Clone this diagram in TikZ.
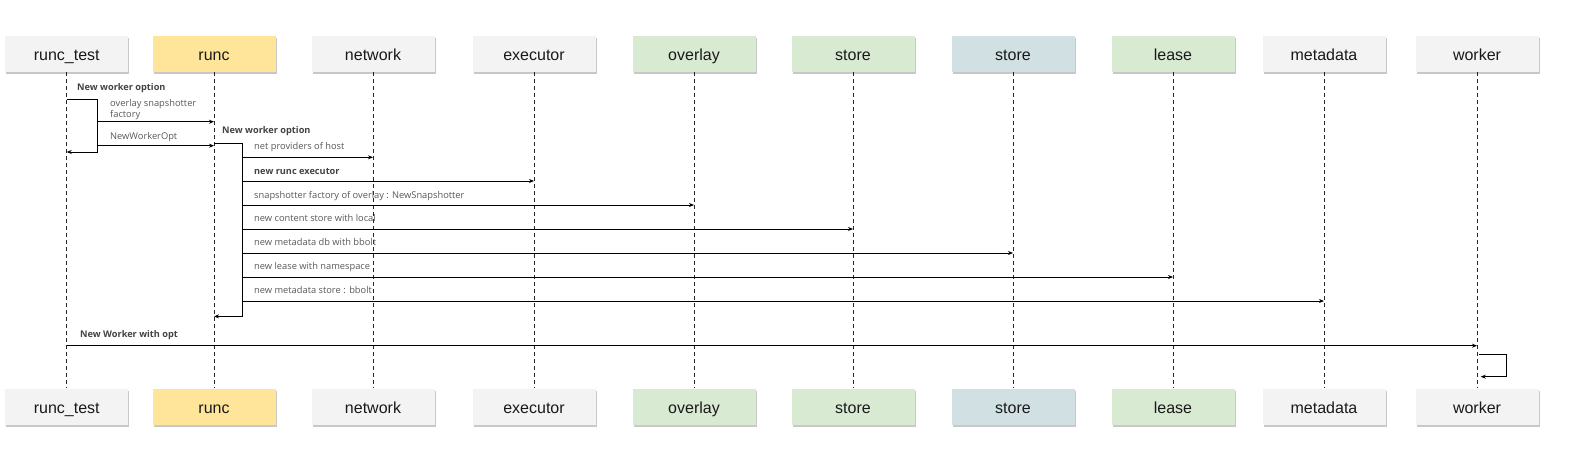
\documentclass[tikz,border=0pt]{standalone}
\usepackage{fontspec}
\setmainfont{Liberation Sans}
\newfontfamily\labfont{Open Sans}
\usetikzlibrary{arrows.meta,shadows}
\definecolor{boxgray}{HTML}{F3F3F3}
\definecolor{boxyellow}{HTML}{FFE599}
\definecolor{boxgreen}{HTML}{D9EAD3}
\definecolor{boxblue}{HTML}{D0E0E3}
\definecolor{labgray}{HTML}{595959}
\definecolor{labdark}{HTML}{434343}
\begin{document}
\begin{tikzpicture}[x=1pt,y={(0pt,-1pt)},
  actor/.style={draw=none, minimum width=123pt, minimum height=36pt, inner sep=0pt,
    text height=14.5pt, text depth=1pt,
    font=\fontsize{16}{18}\selectfont, text=black!90,
    drop shadow={shadow xshift=1pt, shadow yshift=-2pt, opacity=0.3, fill=black!70}},
  life/.style={dash pattern=on 4pt off 3pt, line width=0.8pt, black!85},
  msg/.style={line width=1pt, black, -{Stealth[length=5pt,width=4pt]}},
  lab/.style={anchor=base west, inner sep=0pt, font=\labfont\fontsize{9.3}{11}\selectfont, text=labgray},
  blab/.style={anchor=base west, inner sep=0pt, font=\labfont\bfseries\fontsize{9.2}{11}\selectfont, text=labdark}]
\useasboundingbox (0,0) rectangle (1590,460);
\fill[white] (0,0) rectangle (1590,460);
% top actors
\node[actor, fill=boxgray]   (t1)  at (66.7,54.2) {runc\_test};
\node[actor, fill=boxyellow] (t2)  at (214,54.2)  {runc};
\node[actor, fill=boxgray]   (t3)  at (373,54.2)  {network};
\node[actor, fill=boxgray]   (t4)  at (534,54.2)  {executor};
\node[actor, fill=boxgreen]  (t5)  at (694,54.2)  {overlay};
\node[actor, fill=boxgreen]  (t6)  at (853,54.2)  {store};
\node[actor, fill=boxblue]   (t7)  at (1013,54.2) {store};
\node[actor, fill=boxgreen]  (t8)  at (1173,54.2) {lease};
\node[actor, fill=boxgray]   (t9)  at (1324,54.2) {metadata};
\node[actor, fill=boxgray]   (t10) at (1477,54.2) {worker};
% bottom actors
\node[actor, fill=boxgray]   (b1)  at (66.7,406.5) {runc\_test};
\node[actor, fill=boxyellow] (b2)  at (214,406.5)  {runc};
\node[actor, fill=boxgray]   (b3)  at (373,406.5)  {network};
\node[actor, fill=boxgray]   (b4)  at (534,406.5)  {executor};
\node[actor, fill=boxgreen]  (b5)  at (694,406.5)  {overlay};
\node[actor, fill=boxgreen]  (b6)  at (853,406.5)  {store};
\node[actor, fill=boxblue]   (b7)  at (1013,406.5) {store};
\node[actor, fill=boxgreen]  (b8)  at (1173,406.5) {lease};
\node[actor, fill=boxgray]   (b9)  at (1324,406.5) {metadata};
\node[actor, fill=boxgray]   (b10) at (1477,406.5) {worker};
% lifelines
\foreach \i in {1,...,10} { \draw[life] (t\i) -- (b\i); }
% runc_test self call
\coordinate (ya) at (0,99.4);
\coordinate (yb) at (0,152);
\coordinate (k1) at (97,99.4);
\coordinate (k2) at (97,152);
\draw[msg] (t1 |- ya) -- (k1) -- (k2) -- (t1 |- yb);
\node[blab] (l0) at (77,90) {New worker option};
\coordinate (s1) at (97,121.7);
\draw[msg] (s1) -- (s1 -| t2);
\node[lab] (l1a) at (110,106) {overlay snapshotter};
\node[lab] (l1b) at (110,117) {factory};
\coordinate (s2) at (97,145.7);
\draw[msg] (s2) -- (s2 -| t2);
\node[lab] (l2) at (110,139) {NewWorkerOpt};
% runc self call
\coordinate (r1) at (242.3,143.3);
\coordinate (r2) at (242.3,316.4);
\draw[msg] (r1 -| t2) -- (r1) -- (r2) -- (r2 -| t2);
\node[blab] (l3) at (222,133.7) {New worker option};
\coordinate (m1) at (242.3,157.3);
\coordinate (m2) at (242.3,181);
\coordinate (m3) at (242.3,205);
\coordinate (m4) at (242.3,229);
\coordinate (m5) at (242.3,253);
\coordinate (m6) at (242.3,277);
\coordinate (m7) at (242.3,301);
\draw[msg] (m1) -- (m1 -| t3);
\draw[msg] (m2) -- (m2 -| t4);
\draw[msg] (m3) -- (m3 -| t5);
\draw[msg] (m4) -- (m4 -| t6);
\draw[msg] (m5) -- (m5 -| t7);
\draw[msg] (m6) -- (m6 -| t8);
\draw[msg] (m7) -- (m7 -| t9);
\node[lab]  (l4)  at (254,149.7) {net providers of host};
\node[blab] (l5)  at (254,174)   {new runc executor};
\node[lab]  (l6)  at (254,198)   {snapshotter factory of overlay : NewSnapshotter};
\node[lab]  (l7)  at (254,221.5) {new content store with local};
\node[lab]  (l8)  at (254,245.5) {new metadata db with bbolt};
\node[lab]  (l9)  at (254,269.5) {new lease with namespace};
\node[lab]  (l10) at (254,293.5) {new metadata store\hspace{2.5pt}:\hspace{3.5pt}bbolt};
% new worker
\coordinate (w0) at (0,345.7);
\draw[msg] (w0 -| t1) -- (w0 -| t10);
\node[blab] (l11) at (80,337.6) {New Worker with opt};
\coordinate (w1a) at (1479,354.3);
\coordinate (w1) at (1506.7,354.3);
\coordinate (w2) at (1506.7,376.7);
\coordinate (w2a) at (1480.7,376.7);
\draw[msg] (w1a) -- (w1) -- (w2) -- (w2a);
\end{tikzpicture}
\end{document}
